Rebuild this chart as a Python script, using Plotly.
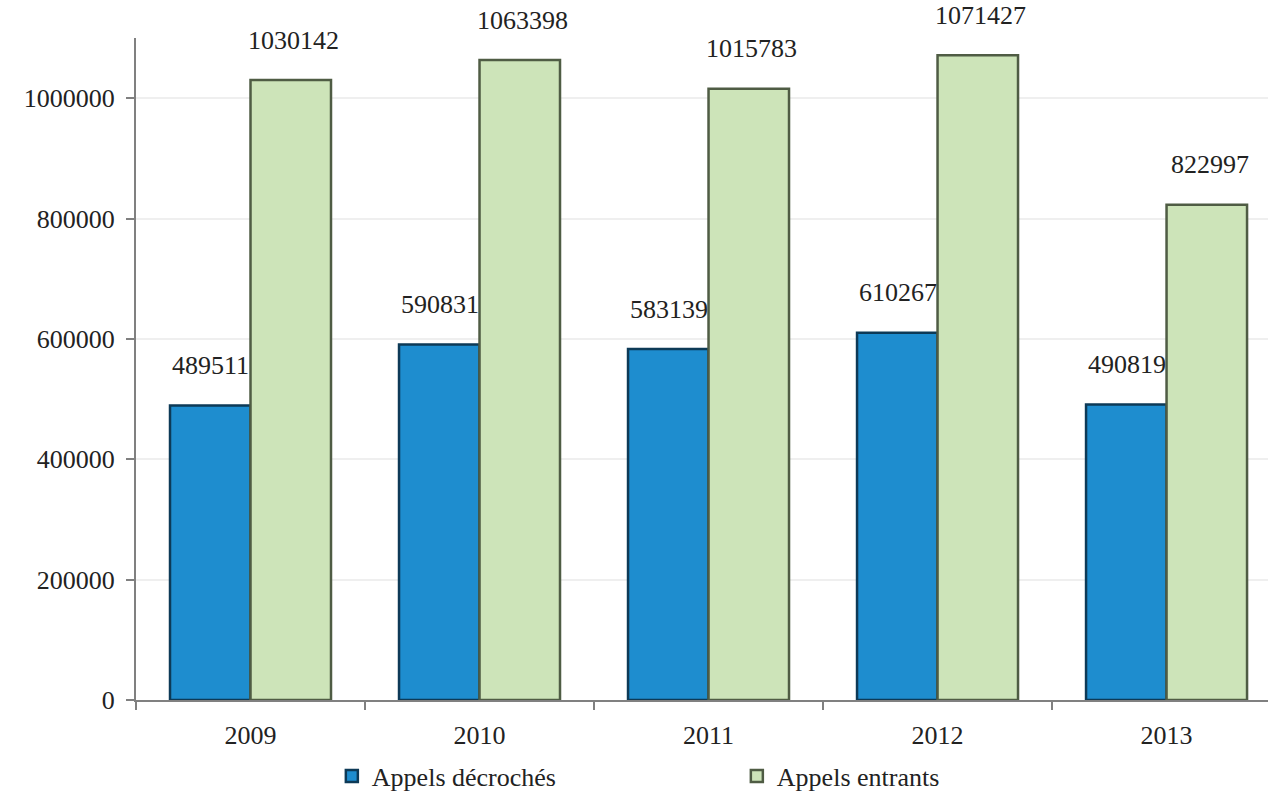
import plotly.graph_objects as go

years = ["2009", "2010", "2011", "2012", "2013"]
appels_decroches = [489511, 590831, 583139, 610267, 490819]
appels_entrants = [1030142, 1063398, 1015783, 1071427, 822997]
y_ticks = [0, 200000, 400000, 600000, 800000, 1000000]

FONT = "Liberation Serif"
FONT_SIZE = 26
BLUE = "#1e8dcf"
BLUE_EDGE = "#0d3a57"
GREEN = "#cde4b9"
GREEN_EDGE = "#4f5c44"

fig = go.Figure()
fig.add_trace(go.Bar(
    x=years, y=appels_decroches, name="Appels décrochés",
    marker=dict(color=BLUE, line=dict(color=BLUE_EDGE, width=2.5)),
))
fig.add_trace(go.Bar(
    x=years, y=appels_entrants, name="Appels entrants",
    marker=dict(color=GREEN, line=dict(color=GREEN_EDGE, width=2.5)),
))

# value labels above each bar (category axis: position by category index)
label_font = dict(family=FONT, size=FONT_SIZE, color="#222222")
for i, v in enumerate(appels_decroches):
    fig.add_annotation(x=i, y=v, xref="x", yref="y", text=str(v),
                       showarrow=False, xshift=-40, yshift=40,
                       font=label_font)
for i, v in enumerate(appels_entrants):
    fig.add_annotation(x=i, y=v, xref="x", yref="y", text=str(v),
                       showarrow=False, xshift=43, yshift=40,
                       font=label_font)

fig.update_layout(
    width=1268, height=811,
    margin=dict(l=136, r=0, t=38, b=111),
    paper_bgcolor="white", plot_bgcolor="white",
    barmode="group", bargap=0.297, bargroupgap=0,
    font=dict(family=FONT, size=FONT_SIZE, color="#222222"),
    showlegend=True,
    legend=dict(orientation="h", x=0.173, xanchor="left", y=-0.115, yanchor="middle",
                font=dict(family=FONT, size=FONT_SIZE, color="#222222"),
                entrywidth=360, entrywidthmode="pixels"),
    xaxis=dict(
        type="category",
        range=[-0.5, 4.443], showline=True, linecolor="#808080", linewidth=2,
        ticks="outside", tickson="boundaries", ticklen=8, tickcolor="#808080", tickwidth=2,
        ticklabelstandoff=11,
        showgrid=False, zeroline=False,
    ),
    yaxis=dict(
        range=[0, 1100000], tickvals=y_ticks, tickformat="d",
        showline=True, linecolor="#808080", linewidth=2,
        ticks="outside", ticklen=8, tickcolor="#808080", tickwidth=2,
        ticklabelstandoff=6,
        showgrid=True, gridcolor="#efefef", gridwidth=2, zeroline=False,
    ),
)

fig.write_html("out.html")
